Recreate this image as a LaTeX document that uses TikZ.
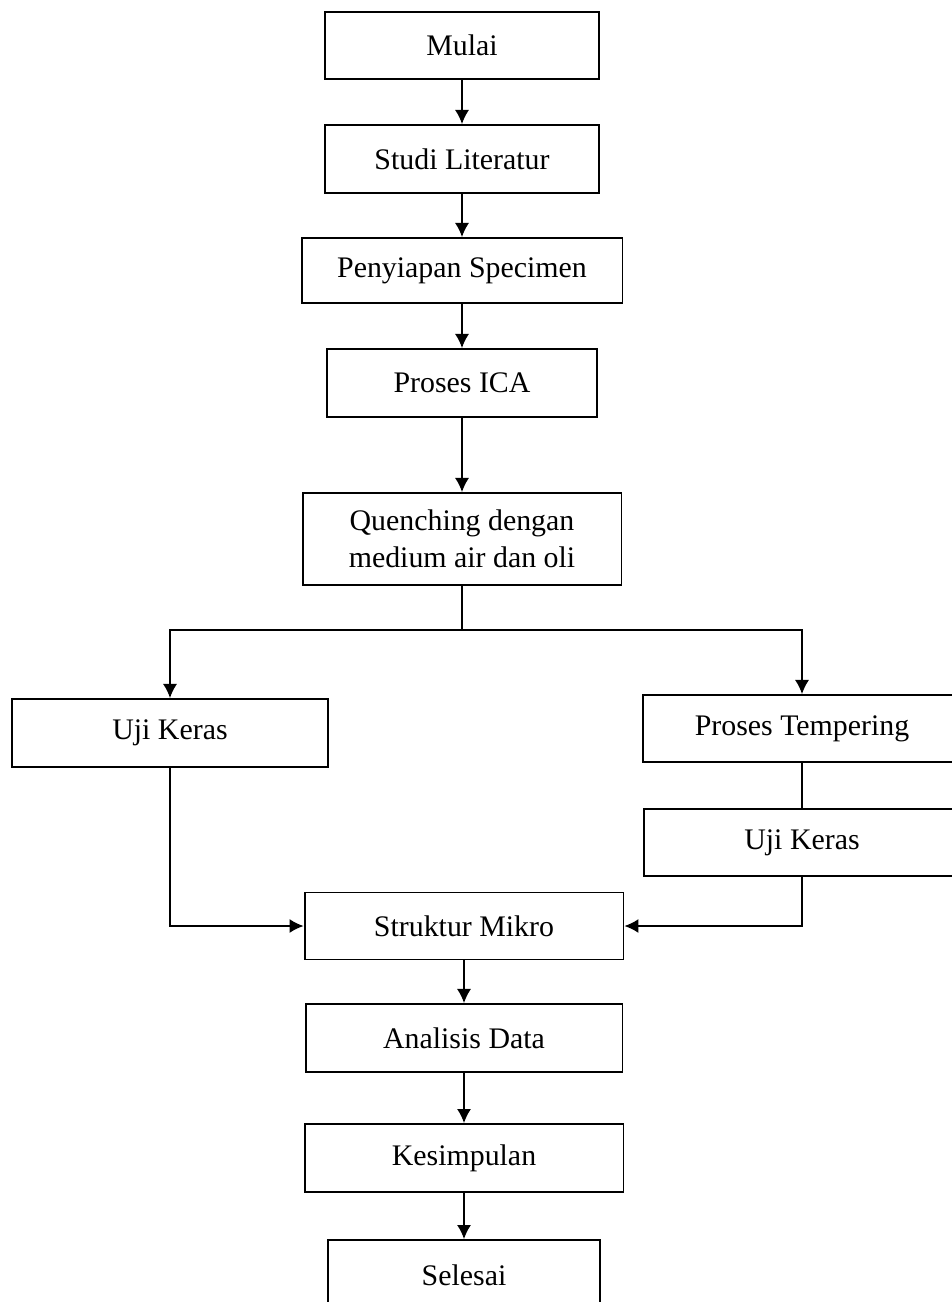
\documentclass[tikz,border=0pt]{standalone}
\usepackage{fontspec}
\setmainfont{Liberation Serif}
\usepackage{tikz}
\usetikzlibrary{arrows.meta}
\usetikzlibrary{backgrounds,positioning}
\pgfdeclarelayer{edgelayer}
\pgfdeclarelayer{nodelayer}
\pgfsetlayers{background,edgelayer,nodelayer,main}
\tikzstyle{box}=[draw=black,line width=1.1pt,shape=rectangle,inner sep=0mm,align=center,font=\fontsize{17}{21}\selectfont]
\tikzstyle{line}=[line width=0.9pt]
\tikzstyle{diredge}=[line,-{Latex[length=8pt,width=8pt]}]

\begin{document}
\begin{tikzpicture}[x=0.02cm,y=-0.02cm]
	\useasboundingbox (0,0) rectangle (952,1302);
	\begin{pgfonlayer}{nodelayer}
		\node [style=box,minimum width=5.48cm,minimum height=1.34cm] (mulai) at (462, 45.5) {Mulai};
		\node [style=box,minimum width=5.48cm,minimum height=1.36cm] (studi) at (462, 159) {Studi Literatur};
		\node [style=box,minimum width=6.42cm,minimum height=1.30cm] (siap) at (462, 270.5) {Penyiapan Specimen};
		\node [style=box,minimum width=5.40cm,minimum height=1.36cm] (ica) at (462, 383) {Proses ICA};
		\node [style=box,minimum width=6.38cm,minimum height=1.84cm] (quench) at (462, 539) {Quenching dengan\\medium air dan oli};
		\node [style=box,minimum width=6.32cm,minimum height=1.36cm] (kerasA) at (170, 733) {Uji Keras};
		\node [style=box,minimum width=6.36cm,minimum height=1.34cm] (temper) at (802, 728.5) {Proses Tempering};
		\node [style=box,minimum width=6.32cm,minimum height=1.34cm] (kerasB) at (802, 842.5) {Uji Keras};
		\node [style=box,minimum width=6.38cm,minimum height=1.34cm] (mikro) at (464, 926) {Struktur Mikro};
		\node [style=box,minimum width=6.34cm,minimum height=1.36cm] (analisis) at (464, 1038) {Analisis Data};
		\node [style=box,minimum width=6.38cm,minimum height=1.36cm] (simpul) at (464, 1158) {Kesimpulan};
		\node [style=box,minimum width=5.44cm,minimum height=1.40cm] (selesai) at (464, 1275) {Selesai};
		\coordinate (cabang) at (462, 630);
	\end{pgfonlayer}
	\begin{pgfonlayer}{edgelayer}
		\draw[diredge] (mulai) to (studi);
		\draw[diredge] (studi) to (siap);
		\draw[diredge] (siap) to (ica);
		\draw[diredge] (ica) to (quench);
		\draw[line] (quench) to (cabang);
		\draw[diredge] (cabang) -| (kerasA);
		\draw[diredge] (cabang) -| (temper);
		\draw[line] (temper) to (kerasB);
		\draw[diredge] (kerasA) |- (mikro);
		\draw[diredge] (kerasB) |- (mikro);
		\draw[diredge] (mikro) to (analisis);
		\draw[diredge] (analisis) to (simpul);
		\draw[diredge] (simpul) to (selesai);
	\end{pgfonlayer}
\end{tikzpicture}
\end{document}
